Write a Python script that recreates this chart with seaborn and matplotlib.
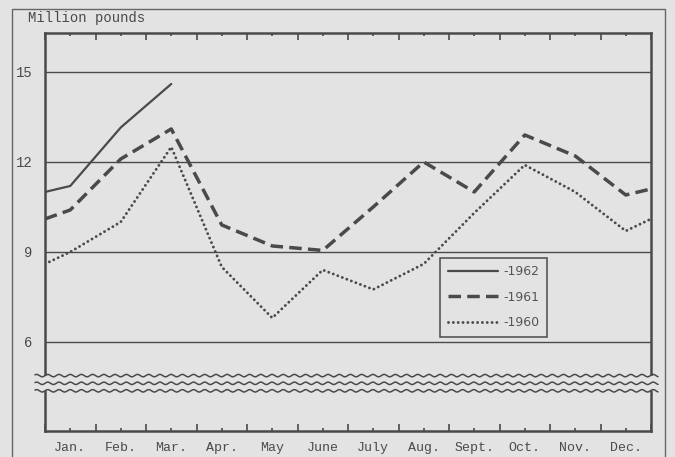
import numpy as np
import pandas as pd
import seaborn as sns
import matplotlib.pyplot as plt
from matplotlib.patches import Rectangle
from matplotlib import transforms

# Monthly values, million pounds. First/last entries are the values at the
# start of Jan. and the end of Dec. (where the lines meet the frame).
months = ["Jan.", "Feb.", "Mar.", "Apr.", "May", "June", "July",
          "Aug.", "Sept.", "Oct.", "Nov.", "Dec."]
pos_full = [-0.5] + list(range(12)) + [11.5]
pos_1962 = [-0.5, 0, 1, 2]
val_1962 = [11.0, 11.2, 13.15, 14.6]
val_1961 = [10.1, 10.4, 12.1, 13.1, 9.9, 9.2, 9.05, 10.5, 12.0, 11.0, 12.9, 12.2, 10.9, 11.1]
val_1960 = [8.6, 9.0, 10.0, 12.5, 8.5, 6.8, 8.4, 7.75, 8.6, 10.3, 11.9, 11.0, 9.7, 10.1]
years = ["1962", "1961", "1960"]
yticks = [6, 9, 12, 15]

BG = "#e3e3e3"
INK = "#4a4a4a"

sns.set_theme(style="white", rc={"axes.facecolor": BG, "figure.facecolor": BG})

df = pd.concat([
    pd.DataFrame({"pos": pos_1962, "value": val_1962, "year": "1962"}),
    pd.DataFrame({"pos": pos_full, "value": val_1961, "year": "1961"}),
    pd.DataFrame({"pos": pos_full, "value": val_1960, "year": "1960"}),
])

styles = {
    "1962": dict(lw=1.6, linestyle="-"),
    "1961": dict(lw=2.5, linestyle=(0, (3.6, 1.8)), dash_capstyle="butt"),
    "1960": dict(lw=2.1, linestyle=(0, (0.01, 1.65)), dash_capstyle="round"),
}

fig = plt.figure(figsize=(6.75, 4.57), dpi=100)
ax = fig.add_axes([45 / 675, 26 / 457, 606 / 675, 398 / 457])

for yr in years:
    sns.lineplot(data=df[df["year"] == yr], x="pos", y="value", ax=ax,
                 color=INK, label="-" + yr, estimator=None, **styles[yr])

ax.set_xlim(-0.5, 11.5)
ax.set_ylim(3.03, 16.3)

# gridlines at labelled values
for v in yticks:
    ax.axhline(v, color=INK, lw=1.0, zorder=1)

ax.set_yticks(yticks)
ax.set_yticklabels([str(v) for v in yticks], family="Liberation Mono",
                   fontsize=10, color=INK)
ax.tick_params(axis="y", length=0, pad=9)

ax.set_xticks(np.arange(-0.5, 12, 1))
ax.set_xticklabels([])
ax.set_xticks(range(12), minor=True)
ax.set_xticklabels(months, minor=True, family="Liberation Mono",
                   fontsize=9.5, color=INK)
ax.tick_params(axis="x", which="both", direction="in", top=True,
               bottom=True, color=INK, width=1.2)
ax.tick_params(axis="x", which="major", length=5)
ax.tick_params(axis="x", which="minor", length=2.2, pad=8)
ax.set_xlabel("")
ax.set_ylabel("")

for sp in ax.spines.values():
    sp.set_visible(True)
    sp.set_color(INK)
    sp.set_linewidth(1.8)

# axis break
blend = transforms.blended_transform_factory(ax.transAxes, ax.transData)
ax.add_patch(Rectangle((-0.03, 4.37), 1.06, 0.51, transform=blend,
                       facecolor=BG, edgecolor="none", zorder=3, clip_on=False))
wx = np.linspace(-0.0165, 1.0116, 800)
for yb in [4.877, 4.62, 4.37]:
    ax.plot(wx, yb + 0.04 * np.sin(wx * 2 * np.pi / 0.0185), transform=blend,
            color=INK, lw=1.1, zorder=4, clip_on=False)

leg = ax.legend(loc="upper left", bbox_to_anchor=(0.652, 0.435),
                borderaxespad=0, frameon=True, fancybox=False,
                handlelength=4.0, handletextpad=0.5, labelspacing=1.0,
                borderpad=0.6, prop={"family": "DejaVu Sans", "size": 9})
leg.get_frame().set_edgecolor(INK)
leg.get_frame().set_linewidth(1.1)
leg.get_frame().set_facecolor(BG)
leg.get_frame().set_alpha(1)
for t in leg.get_texts():
    t.set_color("#555555")

fig.text(28 / 675, 1 - 18 / 457, "Million pounds", family="Liberation Mono",
         fontsize=10, color=INK, ha="left", va="center")

# outer frame of the page figure
fig.add_artist(Rectangle((12 / 675, -0.1), (665 - 12) / 675, 1.1 - 9 / 457,
                         transform=fig.transFigure, fill=False,
                         edgecolor="#666666", lw=1.0))

fig.savefig("out.png", dpi=100, facecolor=BG)
